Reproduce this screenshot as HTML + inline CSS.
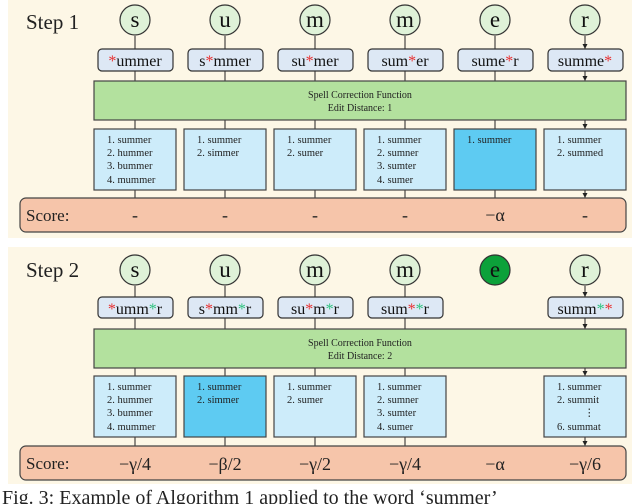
<!DOCTYPE html><html><head><style>body{margin:0;background:#fff}svg{display:block}</style></head><body>
<svg width="640" height="504" viewBox="0 0 640 504" xmlns="http://www.w3.org/2000/svg" font-family="Liberation Serif, serif">
<defs><marker id="a" markerWidth="7" markerHeight="7" refX="5" refY="3.5" orient="auto"><path d="M0,1 L5,3.5 L0,6z" fill="#222"/></marker></defs>
<rect x="8" y="0" width="624" height="238" fill="#fdf7e6"/>
<rect x="8" y="247" width="624" height="237" fill="#fdf7e6"/>
<text x="26" y="29" font-size="21" fill="#222">Step 1</text>
<text x="26" y="277" font-size="21" fill="#222">Step 2</text>
<g stroke="#222" stroke-width="1" marker-end="url(#a)">
<path d="M135 36V49M225 36V49M315 36V49M405 36V49M495 36V49M585 36V49"/>
<path d="M135 71V81M225 71V81M315 71V81M405 71V81M495 71V81M585 71V81"/>
<path d="M135 120V129M225 120V129M315 120V129M405 120V129M495 120V129M585 120V129"/>
<path d="M135 190V198M225 190V198M315 190V198M405 190V198M495 190V198M585 190V198"/>
<path d="M135 286V297M225 286V297M315 286V297M405 286V297M585 286V297"/>
<path d="M135 318V329M225 318V329M315 318V329M405 318V329M585 318V329"/>
<path d="M135 368V376M225 368V376M315 368V376M405 368V376M585 368V376"/>
<path d="M135 437V446M225 437V446M315 437V446M405 437V446M585 437V446"/>
</g>
<g fill="#dff2d8" stroke="#333" stroke-width="1.2">
<circle cx="135" cy="20" r="15"/><circle cx="225" cy="20" r="15"/><circle cx="315" cy="20" r="15"/><circle cx="405" cy="20" r="15"/><circle cx="495" cy="20" r="15"/><circle cx="585" cy="20" r="15"/>
<circle cx="135" cy="270" r="15"/><circle cx="225" cy="270" r="15"/><circle cx="315" cy="270" r="15"/><circle cx="405" cy="270" r="15"/><circle cx="495" cy="270" r="15" fill="#0ca13a"/><circle cx="585" cy="270" r="15"/>
</g>
<g font-size="23" text-anchor="middle" fill="#111">
<text x="135" y="27">s</text><text x="225" y="27">u</text><text x="315" y="27">m</text><text x="405" y="27">m</text><text x="495" y="27">e</text><text x="585" y="27">r</text>
<text x="135" y="277">s</text><text x="225" y="277">u</text><text x="315" y="277">m</text><text x="405" y="277">m</text><text x="495" y="277">e</text><text x="585" y="277">r</text>
</g>
<g fill="#dde8f5" stroke="#333" stroke-width="1.2">
<rect x="98" y="49" width="75" height="22" rx="4"/><rect x="188" y="49" width="75" height="22" rx="4"/><rect x="278" y="49" width="75" height="22" rx="4"/><rect x="368" y="49" width="75" height="22" rx="4"/><rect x="458" y="49" width="75" height="22" rx="4"/><rect x="548" y="49" width="75" height="22" rx="4"/>
<rect x="98" y="297" width="75" height="21" rx="4"/><rect x="188" y="297" width="75" height="21" rx="4"/><rect x="278" y="297" width="75" height="21" rx="4"/><rect x="368" y="297" width="75" height="21" rx="4"/><rect x="548" y="297" width="75" height="21" rx="4"/>
</g>
<g font-size="16" text-anchor="middle" fill="#111">
<text x="135" y="66"><tspan fill="#e83030">*</tspan>ummer</text>
<text x="225" y="66">s<tspan fill="#e83030">*</tspan>mmer</text>
<text x="315" y="66">su<tspan fill="#e83030">*</tspan>mer</text>
<text x="405" y="66">sum<tspan fill="#e83030">*</tspan>er</text>
<text x="495" y="66">sume<tspan fill="#e83030">*</tspan>r</text>
<text x="585" y="66">summe<tspan fill="#e83030">*</tspan></text>
<text x="135" y="314"><tspan fill="#e83030">*</tspan>umm<tspan fill="#2ec27e">*</tspan>r</text>
<text x="225" y="314">s<tspan fill="#e83030">*</tspan>mm<tspan fill="#2ec27e">*</tspan>r</text>
<text x="315" y="314">su<tspan fill="#e83030">*</tspan>m<tspan fill="#2ec27e">*</tspan>r</text>
<text x="405" y="314">sum<tspan fill="#e83030">*</tspan><tspan fill="#2ec27e">*</tspan>r</text>
<text x="585" y="314">summ<tspan fill="#2ec27e">*</tspan><tspan fill="#e83030">*</tspan></text>
</g>
<g fill="#b3e19e" stroke="#444" stroke-width="1.2">
<rect x="94" y="81" width="532" height="39"/><rect x="94" y="329" width="532" height="39"/>
</g>
<g font-size="10" text-anchor="middle" fill="#222">
<text x="360" y="98">Spell Correction Function</text><text x="360" y="111">Edit Distance: 1</text>
<text x="360" y="346">Spell Correction Function</text><text x="360" y="359">Edit Distance: 2</text>
</g>
<g fill="#cdecfa" stroke="#444" stroke-width="1.2">
<rect x="94" y="129" width="82" height="61"/><rect x="184" y="129" width="82" height="61"/><rect x="274" y="129" width="82" height="61"/><rect x="364" y="129" width="82" height="61"/><rect x="454" y="129" width="82" height="61" fill="#5ecbf2"/><rect x="544" y="129" width="82" height="61"/>
<rect x="94" y="376" width="82" height="61"/><rect x="184" y="376" width="82" height="61" fill="#5ecbf2"/><rect x="274" y="376" width="82" height="61"/><rect x="364" y="376" width="82" height="61"/><rect x="544" y="376" width="82" height="61"/>
</g>
<g font-size="10.5" fill="#222">
<text x="107" y="143">1. summer</text><text x="107" y="156">2. hummer</text><text x="107" y="169">3. bummer</text><text x="107" y="183">4. mummer</text>
<text x="197" y="143">1. summer</text><text x="197" y="156">2. simmer</text>
<text x="287" y="143">1. summer</text><text x="287" y="156">2. sumer</text>
<text x="377" y="143">1. summer</text><text x="377" y="156">2. sumner</text><text x="377" y="169">3. sumter</text><text x="377" y="183">4. sumer</text>
<text x="467" y="143">1. summer</text>
<text x="557" y="143">1. summer</text><text x="557" y="156">2. summed</text>
<text x="107" y="390">1. summer</text><text x="107" y="403">2. hummer</text><text x="107" y="416">3. bummer</text><text x="107" y="430">4. mummer</text>
<text x="197" y="390">1. summer</text><text x="197" y="403">2. simmer</text>
<text x="287" y="390">1. summer</text><text x="287" y="403">2. sumer</text>
<text x="377" y="390">1. summer</text><text x="377" y="403">2. sumner</text><text x="377" y="416">3. sumter</text><text x="377" y="430">4. sumer</text>
<text x="557" y="390">1. summer</text><text x="557" y="403">2. summit</text><text x="584" y="416">⋮</text><text x="557" y="430">6. summat</text>
</g>
<g fill="#f6c5aa" stroke="#444" stroke-width="1.2">
<rect x="20" y="198" width="606" height="34" rx="6"/><rect x="20" y="446" width="606" height="34" rx="6"/>
</g>
<g font-size="17" fill="#222">
<text x="26" y="221">Score:</text><text x="26" y="469">Score:</text>
</g>
<g font-size="18" text-anchor="middle" fill="#222">
<text x="135" y="221">-</text><text x="225" y="221">-</text><text x="315" y="221">-</text><text x="405" y="221">-</text><text x="495" y="221">−α</text><text x="585" y="221">-</text>
<text x="135" y="470">−γ/4</text><text x="225" y="470">−β/2</text><text x="315" y="470">−γ/2</text><text x="405" y="470">−γ/4</text><text x="495" y="470">−α</text><text x="585" y="470">−γ/6</text>
</g>
<text x="2" y="504" font-size="20" fill="#222">Fig. 3: Example of Algorithm 1 applied to the word ‘summer’</text>
</svg></body></html>
